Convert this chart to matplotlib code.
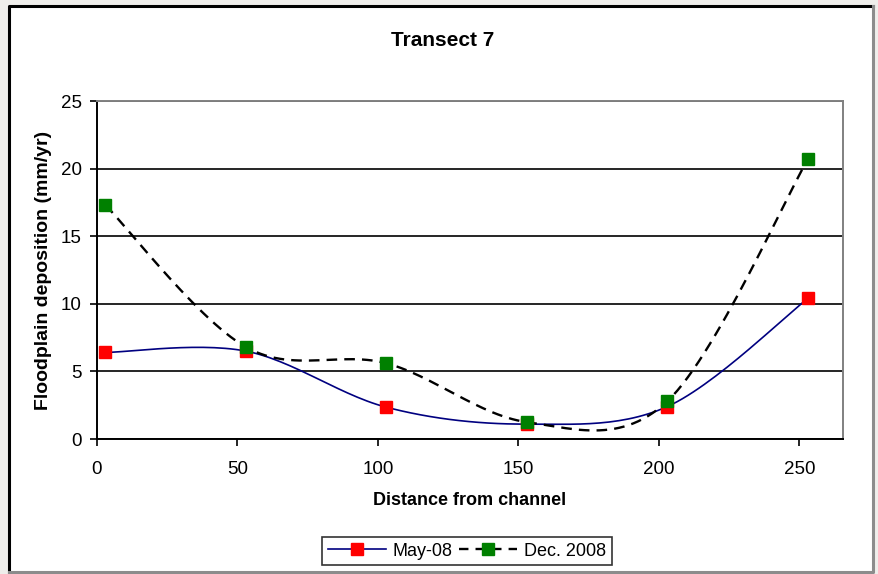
import numpy as np
import matplotlib.pyplot as plt
from matplotlib.lines import Line2D
from matplotlib.patches import Rectangle

plt.rcParams['font.family'] = ['Liberation Sans', 'DejaVu Sans']

# Distancia desde el canal y tasas de deposición
distance = [3, 53, 103, 153, 203, 253]
may_08 = [6.4, 6.5, 2.35, 1.1, 2.4, 10.4]
dec_2008 = [17.3, 6.8, 5.6, 1.25, 2.8, 20.7]
x_ticks = [0, 50, 100, 150, 200, 250]
y_ticks = [0, 5, 10, 15, 20, 25]


def curva_suave(x, y, n=30):
    # Curva suavizada tipo Catmull-Rom (como la opción "suavizar línea")
    x = np.asarray(x, float)
    y = np.asarray(y, float)
    px = np.concatenate([[x[0]], x, [x[-1]]])
    py = np.concatenate([[y[0]], y, [y[-1]]])
    xs, ys = [], []
    t = np.linspace(0, 1, n)
    for i in range(1, len(px) - 2):
        p0 = np.array([px[i], py[i]])
        p3 = np.array([px[i + 1], py[i + 1]])
        p1 = p0 + (np.array([px[i + 1], py[i + 1]]) - np.array([px[i - 1], py[i - 1]])) / 6
        p2 = p3 - (np.array([px[i + 2], py[i + 2]]) - np.array([px[i], py[i]])) / 6
        b = ((1 - t) ** 3)[:, None] * p0 + (3 * (1 - t) ** 2 * t)[:, None] * p1 \
            + (3 * (1 - t) * t ** 2)[:, None] * p2 + (t ** 3)[:, None] * p3
        xs.extend(b[:, 0])
        ys.extend(b[:, 1])
    return xs, ys


fig = plt.figure(figsize=(8.79, 5.74), dpi=100)
fig.patch.set_facecolor('#efeeeb')

# Marco del gráfico
fig.add_artist(Rectangle((9 / 879, 1 - 572 / 574), 864 / 879, 566 / 574,
                         transform=fig.transFigure, facecolor='white',
                         edgecolor='none', zorder=-10))
fig.add_artist(Line2D([9 / 879, 9 / 879, 873 / 879], [1 - 572 / 574, 1 - 6 / 574, 1 - 6 / 574],
                      transform=fig.transFigure, color='black', lw=2.2))
fig.add_artist(Line2D([9 / 879, 873 / 879, 873 / 879], [1 - 572 / 574, 1 - 572 / 574, 1 - 6 / 574],
                      transform=fig.transFigure, color='#8c8c8c', lw=2.2))

ax = fig.add_axes([97 / 879, 1 - 439 / 574, (843 - 97) / 879, (439 - 101) / 574])
ax.set_facecolor('white')

sx, sy = curva_suave(distance, may_08)
ax.plot(sx, sy, color='#000080', lw=1.2, zorder=3)
sx, sy = curva_suave(distance, dec_2008)
ax.plot(sx, sy, color='black', lw=1.7, ls=(0, (4.5, 3)), zorder=3)
ax.plot(distance, may_08, ls='none', marker='s', ms=8.5, color='#ff0000', zorder=4)
ax.plot(distance, dec_2008, ls='none', marker='s', ms=8.5, color='#008000', zorder=5)

ax.set_xlim(0, 265.5)
ax.set_ylim(0, 25)
ax.set_xticks(x_ticks)
ax.set_yticks(y_ticks)
ax.tick_params(labelsize=13.5, length=5, width=1.2, direction='out')
ax.tick_params(axis='x', pad=11)
ax.tick_params(axis='y', pad=6)
ax.yaxis.grid(True, color='black', lw=1.2)
ax.set_axisbelow(True)
for s in ['left', 'bottom']:
    ax.spines[s].set_color('black')
    ax.spines[s].set_linewidth(1.4)
for s in ['top', 'right']:
    ax.spines[s].set_color('#808080')
    ax.spines[s].set_linewidth(1.4)

ax.set_xlabel('Distance from channel', fontsize=13, fontweight='bold', labelpad=10)
ax.set_ylabel('Floodplain deposition (mm/yr)', fontsize=14, fontweight='bold', labelpad=6)
fig.text(443 / 879, 1 - 40 / 574, 'Transect 7', ha='center', va='center',
         fontsize=15, fontweight='bold')

handles = [
    Line2D([], [], color='#000080', lw=1.2, marker='s', ms=8.5,
           markerfacecolor='#ff0000', markeredgecolor='#ff0000'),
    Line2D([], [], color='black', lw=1.7, ls=(0, (4, 3)), marker='s', ms=8.5,
           markerfacecolor='#008000', markeredgecolor='#008000'),
]
leg = fig.legend(handles, ['May-08', 'Dec. 2008'], loc='center',
                 bbox_to_anchor=(467 / 879, 1 - 551 / 574), ncol=2, fontsize=13,
                 frameon=True, fancybox=False, handlelength=3.2, columnspacing=0.35,
                 handletextpad=0.4, borderpad=0.3, borderaxespad=0)
leg.get_frame().set_edgecolor('black')
leg.get_frame().set_linewidth(1.2)

plt.savefig('out.png', dpi=100, facecolor=fig.get_facecolor())
